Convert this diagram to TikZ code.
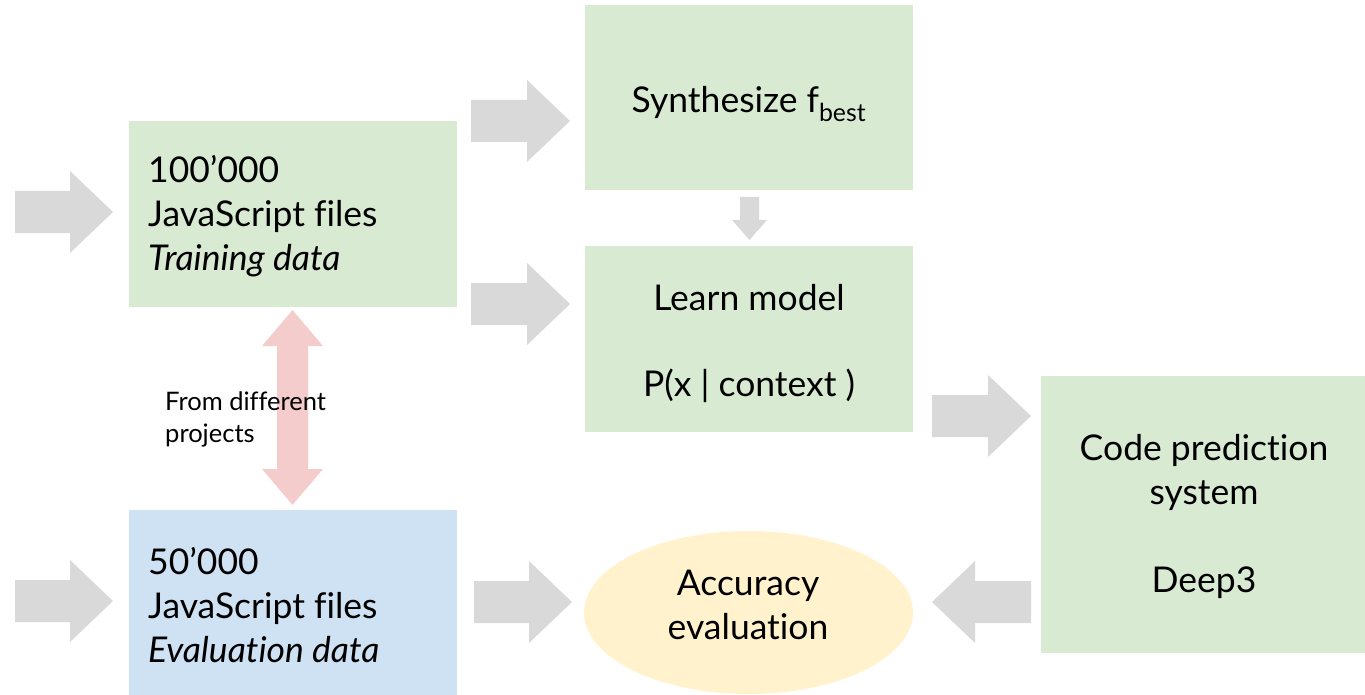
\documentclass[tikz,border=0pt]{standalone}
\usepackage{fontspec}
\setmainfont[Ligatures=NoCommon]{Lato}
\usetikzlibrary{shapes.geometric}
\definecolor{boxgreen}{HTML}{D9EAD3}
\definecolor{boxblue}{HTML}{CFE2F3}
\definecolor{boxyellow}{HTML}{FFF2CC}
\definecolor{arrowgray}{HTML}{D9D9D9}
\definecolor{arrowpink}{HTML}{F4CCCC}
\newcommand\mainsize{\fontsize{35.5}{44}\selectfont}
\newcommand\smallsize{\fontsize{25.5}{32}\selectfont}
% right-pointing block arrow: xstart, xend, ycenter
\newcommand\rblock[3]{\fill[arrowgray] (#1,#3-21) -- (#2-43,#3-21) -- (#2-43,#3-41) -- (#2,#3) -- (#2-43,#3+41) -- (#2-43,#3+21) -- (#1,#3+21) -- cycle;}
\newcommand\lblock[3]{\fill[arrowgray] (#2,#3-21) -- (#1+43,#3-21) -- (#1+43,#3-41) -- (#1,#3) -- (#1+43,#3+41) -- (#1+43,#3+21) -- (#2,#3+21) -- cycle;}
\begin{document}
\begin{tikzpicture}[x=1pt,y=-1pt,
  txt/.style={font=\mainsize, align=center, inner sep=0pt}]
\useasboundingbox (0,0) rectangle (1365,695);
% boxes
\fill[boxgreen] (129,121) rectangle (457,307); \coordinate (train) at (293,214);
\fill[boxgreen] (585,5) rectangle (913,190); \coordinate (synth) at (749,97);
\fill[boxgreen] (585,246) rectangle (913,432); \coordinate (learn) at (749,339);
\fill[boxgreen] (1041,376) rectangle (1365,653); \coordinate (code) at (1203,514);
\fill[boxblue] (129,510) rectangle (457,695); \coordinate (evalb) at (293,602);
\fill[boxyellow] (748.5,612.5) ellipse (164.5 and 81.5);
% arrows
\rblock{15}{113}{212}
\rblock{15}{113}{601}
\rblock{471}{570}{121}
\rblock{471}{570}{304}
\rblock{474}{572}{602}
\rblock{932}{1031}{416}
\lblock{932}{1031}{602}
\fill[arrowgray] (740,197) -- (759,197) -- (759,220) -- (767,220) -- (749.5,240) -- (732,220) -- (740,220) -- cycle;
\fill[arrowpink] (277,346) -- (262,346) -- (292.5,310) -- (323,346) -- (308,346) -- (308,469) -- (323,469) -- (292.5,505) -- (262,469) -- (277,469) -- cycle;
% texts
\node[txt, align=left, anchor=west] (traintxt) at (148,216) {100’000\\JavaScript files\\\textit{Training data}};
\node[txt, align=left, anchor=west] (evaltxt) at (148,605) {50’000\\JavaScript files\\\textit{Evaluation data}};
\node[txt] (synthtxt) at (749,104) {Synthesize f\textsubscript{best}};
\node[txt] (learn1) at (749,298) {Learn model};
\node[txt] (learn2) at (749,386) {P(x | context )};
\node[txt] (code1) at (1204,472) {Code prediction\\system};
\node[txt] (code2) at (1204,583) {Deep3};
\node[txt] (acc) at (748,605) {Accuracy\\evaluation};
\node[font=\smallsize, align=left, anchor=west, inner sep=0pt] (from) at (165,419) {From different\\projects};
\end{tikzpicture}
\end{document}
